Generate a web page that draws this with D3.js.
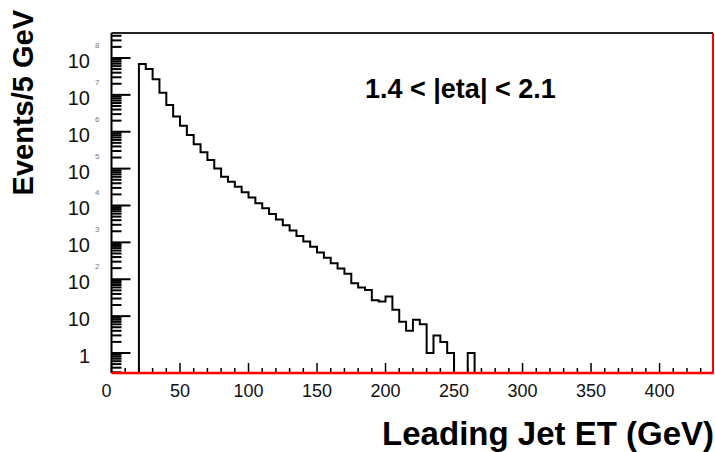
<!DOCTYPE html>
<html>
<head>
<meta charset="utf-8">
<script src="https://cdn.jsdelivr.net/npm/d3@7"></script>
<style>
  html, body { margin: 0; padding: 0; background: #fff; }
  svg { display: block; }
  text { font-family: "Liberation Sans", Arial, sans-serif; }
</style>
</head>
<body>
<svg id="chart" width="715" height="452"></svg>
<script>
// Leading jet ET spectrum, 5 GeV bins (lower bin edge in GeV)
const binLow = [20, 25, 30, 35, 40, 45, 50, 55, 60, 65,
                70, 75, 80, 85, 90, 95, 100, 105, 110, 115,
                120, 125, 130, 135, 140, 145, 150, 155, 160, 165,
                170, 175, 180, 185, 190, 195, 200, 205, 210, 215,
                220, 225, 230, 235, 240, 245, 250, 255, 260, 265];
const events = [6.9e7, 5.0e7, 2.65e7, 1.15e7, 5.3e6, 2.6e6, 1.45e6, 8.2e5, 4.6e5, 2.8e5,
                1.7e5, 1.0e5, 6.0e4, 4.4e4, 3.2e4, 2.3e4, 1.65e4, 1.15e4, 8.4e3, 5.9e3,
                4.2e3, 2.9e3, 2.1e3, 1.5e3, 1.05e3, 760, 530, 380, 270, 195,
                140, 78, 60, 51, 27, 25, 34, 15, 7, 4,
                8, 6, 1, 3, 2, 1, 0, 0, 1, 0];
const binWidth = 5;

const xMajorTicks = [0, 50, 100, 150, 200, 250, 300, 350, 400];
const yDecades = [0, 1, 2, 3, 4, 5, 6, 7, 8];

const titleX = "Leading Jet ET (GeV)";
const titleY = "Events/5 GeV";
const cutLabel = "1.4 <  |eta| < 2.1";

const svg = d3.select("#chart");
const frame = { left: 111.5, right: 713, top: 33, bottom: 373 };

const x = d3.scaleLinear().domain([0, 439]).range([frame.left, frame.right]);
const y = d3.scaleLog().domain([0.287, 4.76e8]).range([frame.bottom, frame.top]);
const yFloor = y.domain()[0];

// histogram outline (empty bins sit on the frame floor)
const pts = [[binLow[0], yFloor]];
binLow.forEach((lo, i) => {
  const v = events[i] > 0 ? events[i] : yFloor;
  pts.push([lo, v], [lo + binWidth, v]);
});
pts.push([binLow[binLow.length - 1] + binWidth, yFloor], [x.domain()[1], yFloor]);

svg.append("path")
  .datum(pts)
  .attr("fill", "none")
  .attr("stroke", "#000")
  .attr("stroke-width", 2)
  .attr("stroke-linejoin", "miter")
  .attr("d", d3.line().x(d => x(d[0])).y(d => y(d[1])));

// y ticks: decades + 2..9 minors, drawn inward from the left edge
const yMinor = [];
for (let d = -1; d <= 8; d++) {
  for (let k = 2; k <= 9; k++) {
    const v = k * Math.pow(10, d);
    if (v >= y.domain()[0] && v <= y.domain()[1]) yMinor.push(v);
  }
}
const gy = svg.append("g");
gy.selectAll("line.minor").data(yMinor).join("line")
  .attr("x1", frame.left).attr("x2", frame.left + 10)
  .attr("y1", d => y(d)).attr("y2", d => y(d))
  .attr("stroke", "#000").attr("stroke-width", 2);
gy.selectAll("line.major").data(yDecades).join("line")
  .attr("x1", frame.left).attr("x2", frame.left + 19)
  .attr("y1", d => y(Math.pow(10, d))).attr("y2", d => y(Math.pow(10, d)))
  .attr("stroke", "#000").attr("stroke-width", 2);

// y tick labels: 1, 10, then 10 with a small exponent
yDecades.forEach(d => {
  const yy = y(Math.pow(10, d));
  svg.append("text")
    .attr("x", 90).attr("y", yy + 10)
    .attr("text-anchor", "end")
    .attr("font-size", 20)
    .attr("fill", "#111")
    .text(d === 0 ? "1" : "10");
  if (d >= 2) {
    svg.append("text")
      .attr("x", 95).attr("y", yy - 10)
      .attr("font-size", 8)
      .attr("fill", "#777")
      .text(d);
  }
});

// x ticks: majors every 50, minors every 10, pointing up from the bottom
const xMinor = d3.range(0, 440, 10).filter(v => v % 50 !== 0);
const gx = svg.append("g");
gx.selectAll("line.minor").data(xMinor).join("line")
  .attr("x1", d => x(d)).attr("x2", d => x(d))
  .attr("y1", frame.bottom).attr("y2", frame.bottom - 5)
  .attr("stroke", "#000").attr("stroke-width", 1.5);
gx.selectAll("line.major").data(xMajorTicks).join("line")
  .attr("x1", d => x(d)).attr("x2", d => x(d))
  .attr("y1", frame.bottom).attr("y2", frame.bottom - 10)
  .attr("stroke", "#000").attr("stroke-width", 1.5);
gx.selectAll("text").data(xMajorTicks).join("text")
  .attr("x", d => x(d) - (d === 0 ? 5 : 0))
  .attr("y", 397)
  .attr("text-anchor", "middle")
  .attr("font-size", 18)
  .attr("fill", "#111")
  .text(d => d);

// frame: black top/left, red bottom/right
svg.append("line")
  .attr("x1", frame.left).attr("x2", frame.right)
  .attr("y1", frame.top).attr("y2", frame.top)
  .attr("stroke", "#222").attr("stroke-width", 2);
svg.append("line")
  .attr("x1", frame.left).attr("x2", frame.left)
  .attr("y1", frame.top).attr("y2", frame.bottom)
  .attr("stroke", "#000").attr("stroke-width", 2);
svg.append("line")
  .attr("x1", frame.left).attr("x2", frame.right + 1)
  .attr("y1", frame.bottom).attr("y2", frame.bottom)
  .attr("stroke", "#f00").attr("stroke-width", 2.5);
svg.append("line")
  .attr("x1", frame.right).attr("x2", frame.right)
  .attr("y1", frame.top).attr("y2", frame.bottom)
  .attr("stroke", "#f00").attr("stroke-width", 2);

// titles
svg.append("text")
  .attr("x", 714).attr("y", 445)
  .attr("text-anchor", "end")
  .attr("font-size", 33).attr("font-weight", "bold")
  .attr("fill", "#000")
  .text(titleX);
svg.append("text")
  .attr("transform", "translate(33,10) rotate(-90)")
  .attr("text-anchor", "end")
  .attr("font-size", 29).attr("font-weight", "bold")
  .attr("fill", "#000")
  .text(titleY);
svg.append("text")
  .attr("x", 365).attr("y", 98)
  .attr("font-size", 27).attr("font-weight", "bold")
  .attr("fill", "#000")
  .text(cutLabel);
</script>
</body>
</html>
